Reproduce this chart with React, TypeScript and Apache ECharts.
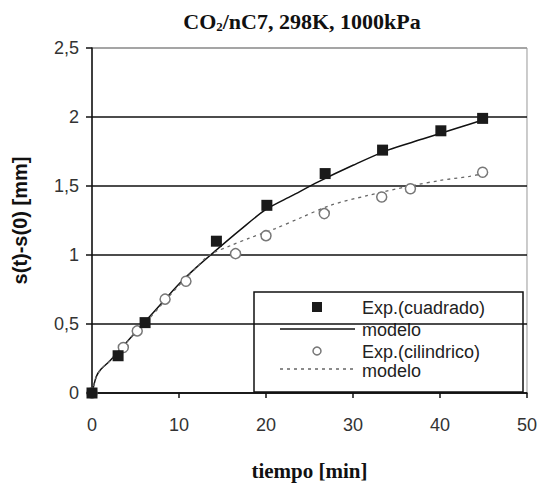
import React, { useEffect, useRef } from "react";
import * as echarts from "echarts";

const xAxisName = "tiempo [min]";
const yAxisName = "s(t)-s(0) [mm]";
const legendNames = ["Exp.(cuadrado)", "modelo", "Exp.(cilindrico)", "modelo"];

// experimental, square sample
const squareT = [0, 3.0, 6.1, 14.3, 20.1, 26.8, 33.4, 40.1, 44.9];
const squareS = [0, 0.27, 0.51, 1.1, 1.36, 1.59, 1.76, 1.9, 1.99];

// model for square sample
const modelSqT = [0, 0.5, 1, 2, 3, 4, 6, 8, 10, 12, 14, 17, 20, 23, 26, 30, 34, 38, 42, 45];
const modelSqS = [0, 0.12, 0.17, 0.23, 0.3, 0.37, 0.51, 0.65, 0.79, 0.91, 1.02, 1.18, 1.33, 1.43, 1.53, 1.65, 1.76, 1.84, 1.92, 1.98];

// experimental, cylindrical sample
const circleT = [0, 3.6, 5.2, 8.4, 10.8, 16.5, 20.0, 26.7, 33.3, 36.6, 44.9];
const circleS = [0, 0.33, 0.45, 0.68, 0.81, 1.01, 1.14, 1.3, 1.42, 1.48, 1.6];

// model for cylindrical sample
const modelCyT = [0, 0.5, 1, 2, 3, 4, 6, 8, 10, 12, 13.5, 16, 18, 21, 24, 27.4, 31.6, 36.6, 40, 43.4, 45];
const modelCyS = [0, 0.12, 0.17, 0.23, 0.3, 0.37, 0.5, 0.64, 0.78, 0.91, 1.0, 1.07, 1.12, 1.19, 1.27, 1.36, 1.43, 1.5, 1.54, 1.57, 1.59];

const xTicks = { min: 0, max: 50, interval: 10 };
const yTicks = { min: 0, max: 2.5, interval: 0.5 };

const zip = (a: number[], b: number[]) => a.map((v, i) => [v, b[i]]);

export default function App() {
  const ref = useRef<HTMLDivElement>(null);
  useEffect(() => {
    if (!ref.current) return;
    const chart = echarts.init(ref.current, undefined, { renderer: "svg" });
    const sans = "'Liberation Sans', Arial, sans-serif";
    const serif = "'Liberation Serif', 'Times New Roman', serif";
    const lgX = 254, lgY = 292, lgW = 269, lgH = 100;
    chart.setOption({
      animation: false,
      backgroundColor: "#fff",
      title: {
        text: "{a|CO}{b|2}{a|/nC7, 298K, 1000kPa}",
        left: 297,
        top: 5,
        textAlign: "center",
        textStyle: {
          rich: {
            a: { fontFamily: serif, fontWeight: "bold", fontSize: 22, color: "#111" },
            b: { fontFamily: serif, fontWeight: "bold", fontSize: 13, color: "#111", padding: [10, 0, 0, 0] },
          },
        },
      },
      grid: { left: 92, right: 13, top: 48, bottom: 85, show: true, borderColor: "#999", borderWidth: 1 },
      xAxis: {
        type: "value",
        min: xTicks.min,
        max: xTicks.max,
        interval: xTicks.interval,
        name: xAxisName,
        nameLocation: "middle",
        nameGap: 67,
        nameTextStyle: { fontFamily: serif, fontWeight: "bold", fontSize: 21, color: "#111" },
        axisLine: { lineStyle: { color: "#111", width: 1.5 } },
        axisTick: { show: true, inside: false, length: 5, lineStyle: { color: "#111", width: 1.5 } },
        axisLabel: { fontFamily: sans, fontSize: 18, color: "#333", margin: 23 },
        splitLine: { show: false },
      },
      yAxis: {
        type: "value",
        min: yTicks.min,
        max: yTicks.max,
        interval: yTicks.interval,
        name: yAxisName,
        nameLocation: "middle",
        nameGap: 62,
        nameTextStyle: { fontFamily: sans, fontWeight: "bold", fontSize: 20, color: "#111" },
        axisLine: { lineStyle: { color: "#111", width: 1.5 } },
        axisTick: { show: true, inside: false, length: 6, lineStyle: { color: "#111", width: 1.5 } },
        axisLabel: {
          fontFamily: sans,
          fontSize: 18,
          color: "#333",
          margin: 13,
          formatter: (v: number) => String(v).replace(".", ","),
        },
        splitLine: {
          show: true,
          lineStyle: { color: ["#111", "#111", "#111", "#111", "#111", "#999"], width: 1.5 },
        },
      },
      series: [
        {
          name: legendNames[1],
          type: "line",
          data: zip(modelSqT, modelSqS),
          smooth: 0.3,
          showSymbol: false,
          lineStyle: { color: "#111", width: 1.5 },
          z: 3,
        },
        {
          name: legendNames[3],
          type: "line",
          data: zip(modelCyT, modelCyS),
          smooth: 0.3,
          showSymbol: false,
          lineStyle: { color: "#666", width: 1.3, type: [3, 4] },
          z: 3,
        },
        {
          name: legendNames[2],
          type: "scatter",
          data: zip(circleT, circleS),
          symbol: "circle",
          symbolSize: 10,
          itemStyle: { color: "#fff", borderColor: "#777", borderWidth: 1.5, opacity: 1 },
          z: 4,
        },
        {
          name: legendNames[0],
          type: "scatter",
          data: zip(squareT, squareS),
          symbol: "rect",
          symbolSize: 11,
          itemStyle: { color: "#1a1a1a", opacity: 1 },
          z: 5,
        },
      ],
      graphic: [
        {
          type: "group",
          z: 100,
          children: [
            {
              type: "rect",
              shape: { x: lgX, y: lgY, width: lgW, height: lgH },
              style: { fill: "#fff", stroke: "#111", lineWidth: 1.5 },
            },
            {
              type: "rect",
              shape: { x: 312, y: 302, width: 10, height: 10 },
              style: { fill: "#1a1a1a" },
            },
            {
              type: "line",
              shape: { x1: 280, y1: 329, x2: 355, y2: 329 },
              style: { stroke: "#111", lineWidth: 1.5 },
            },
            {
              type: "circle",
              shape: { cx: 317, cy: 351, r: 4 },
              style: { fill: "#fff", stroke: "#777", lineWidth: 1.5 },
            },
            {
              type: "line",
              shape: { x1: 280, y1: 369, x2: 355, y2: 369 },
              style: { stroke: "#666", lineWidth: 1.3, lineDash: [3, 4] },
            },
            ...legendNames.map((n, i) => ({
              type: "text",
              x: 362,
              y: [308, 330, 352, 371][i],
              style: {
                text: n,
                fontFamily: sans,
                fontSize: 18,
                fill: "#222",
                verticalAlign: "middle",
              },
            })),
          ],
        },
      ],
    });
    return () => chart.dispose();
  }, []);
  return (
    <div
      ref={ref}
      style={{ position: "absolute", left: 0, top: 0, width: 540, height: 486 }}
    />
  );
}
